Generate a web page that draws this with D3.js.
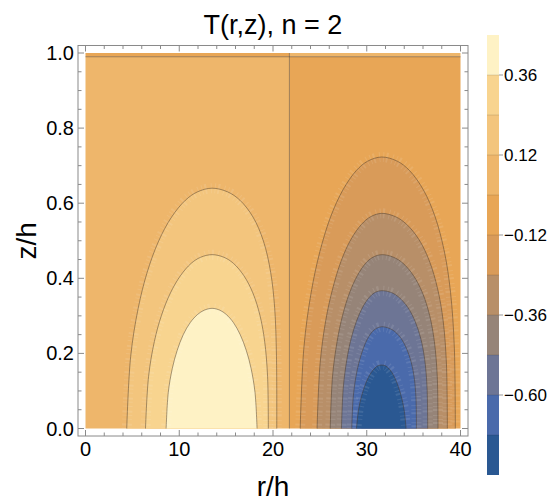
<!DOCTYPE html>
<html>
<head>
<meta charset="utf-8">
<script src="https://cdn.jsdelivr.net/npm/d3@7"></script>
<style>
  body { margin: 0; background: #fff; }
  svg text { font-family: "Liberation Sans", Arial, sans-serif; }
</style>
</head>
<body>
<div id="chart"></div>
<script>
// contour levels (colorbar band edges) and labelled ticks
const bandEdges = [-0.84, -0.72, -0.60, -0.48, -0.36, -0.24, -0.12, 0, 0.12, 0.24, 0.36, 0.48];
const barTicks = [0.36, 0.12, -0.12, -0.36, -0.60];
const xTicks = [0, 10, 20, 30, 40];
const yTicks = [0, 0.2, 0.4, 0.6, 0.8, 1.0];

// zero lines: vertical r where T changes sign, and the z near the lid
const zeroR = 21.75;
const zeroZ = 0.99;

// contour lines, [r/h, z/h]
const contourLevels = [0.12, 0.24, 0.36, -0.12, -0.24, -0.36, -0.48, -0.60, -0.72];
const contourPoints = [
  [[4.4,0],[4.82,.192],[5.62,.32],[6.58,.416],[7.8,.499],[9.18,.563],[10.66,.608],[11.93,.63],[13.5,.64],[15.17,.63],[16.47,.608],[17.87,.563],[18.98,.499],[19.75,.416],[20.18,.32],[20.37,.192],[20.4,0]],
  [[6.4,0],[6.73,.139],[7.35,.232],[8.1,.301],[9.06,.361],[10.13,.407],[11.28,.44],[12.28,.456],[13.5,.463],[14.76,.456],[15.77,.44],[16.89,.407],[17.85,.361],[18.61,.301],[19.11,.232],[19.42,.139],[19.5,0]],
  [[8.6,0],[8.83,.096],[9.26,.16],[9.78,.208],[10.43,.25],[11.17,.282],[11.97,.304],[12.66,.315],[13.5,.32],[14.33,.315],[15.0,.304],[15.78,.282],[16.5,.25],[17.15,.208],[17.66,.16],[18.08,.096],[18.3,0]],
  [[22.9,0],[23.3,.217],[24.07,.362],[24.99,.47],[26.15,.564],[27.47,.636],[28.89,.687],[30.1,.712],[31.6,.723],[33.25,.712],[34.56,.687],[36.03,.636],[37.29,.564],[38.29,.47],[38.94,.362],[39.34,.217],[39.45,0]],
  [[24.7,0],[25.02,.172],[25.62,.287],[26.36,.372],[27.28,.447],[28.32,.504],[29.45,.544],[30.41,.564],[31.6,.573],[33.07,.564],[34.24,.544],[35.55,.504],[36.67,.447],[37.56,.372],[38.15,.287],[38.5,.172],[38.6,0]],
  [[26.1,0],[26.35,.139],[26.84,.232],[27.42,.301],[28.16,.361],[28.99,.407],[29.88,.44],[30.65,.456],[31.6,.463],[32.86,.456],[33.87,.44],[34.99,.407],[35.95,.361],[36.71,.301],[37.21,.232],[37.52,.139],[37.6,0]],
  [[27.3,0],[27.5,.11],[27.88,.184],[28.33,.239],[28.91,.286],[29.56,.323],[30.26,.349],[30.86,.362],[31.6,.367],[32.63,.362],[33.45,.349],[34.37,.323],[35.15,.286],[35.77,.239],[36.18,.184],[36.43,.11],[36.5,0]],
  [[28.4,0],[28.55,.081],[28.83,.136],[29.17,.176],[29.6,.211],[30.08,.239],[30.6,.258],[31.05,.267],[31.6,.271],[32.38,.267],[33.0,.258],[33.69,.239],[34.28,.211],[34.75,.176],[35.06,.136],[35.25,.081],[35.3,0]],
  [[28.9,0],[29.13,.051],[29.43,.085],[29.74,.11],[30.09,.132],[30.47,.149],[30.87,.161],[31.19,.167],[31.6,.169],[31.99,.167],[32.31,.161],[32.69,.149],[33.05,.132],[33.39,.11],[33.69,.085],[33.98,.051],[34.2,0]]
];

// band colours, bottom (-0.84) to top (0.48)
const palette = ["#2a5892", "#4a6aab", "#6d7595", "#968478", "#b88f68", "#d99b59",
                 "#e8a656", "#eeb66b", "#f3c57d", "#f8d48f", "#fef2c5"];

const width = 552, height = 504;

const svg = d3.select("#chart").append("svg")
    .attr("width", width)
    .attr("height", height);

const x = d3.scaleLinear().domain([0, 40]).range([85.5, 460.5]);
const y = d3.scaleLinear().domain([0, 1]).range([428.5, 53]);

// frame has the usual 2% padding round the data
const fx0 = x(-0.8), fx1 = x(40.8), fy0 = y(1.02), fy1 = y(-0.02);

// band colour for a value
function bandColor(v) {
    let i = d3.bisectRight(bandEdges, v) - 1;
    i = Math.max(0, Math.min(palette.length - 1, i));
    return palette[i];
}

const plot = svg.append("g");

// background: T just above / below zero on either side of zeroR
plot.append("rect")
    .attr("x", x(0)).attr("y", y(zeroZ))
    .attr("width", x(zeroR) - x(0)).attr("height", y(0) - y(zeroZ))
    .attr("fill", bandColor(0.06));
plot.append("rect")
    .attr("x", x(zeroR)).attr("y", y(zeroZ))
    .attr("width", x(40) - x(zeroR)).attr("height", y(0) - y(zeroZ))
    .attr("fill", bandColor(-0.06));
// thin strip above the lid zero line has the opposite sign
plot.append("rect")
    .attr("x", x(0)).attr("y", y(1))
    .attr("width", x(zeroR) - x(0)).attr("height", y(zeroZ) - y(1))
    .attr("fill", bandColor(-0.06));
plot.append("rect")
    .attr("x", x(zeroR)).attr("y", y(1))
    .attr("width", x(40) - x(zeroR)).attr("height", y(zeroZ) - y(1))
    .attr("fill", bandColor(0.06));

const line = d3.line()
    .x(d => x(d[0]))
    .y(d => y(d[1]))
    .curve(d3.curveCatmullRom.alpha(0.5));

// filled domes, outer first
contourLevels.forEach((lev, i) => {
    const inner = lev > 0 ? lev + 0.06 : lev - 0.06;
    plot.append("path")
        .attr("d", line(contourPoints[i]) + "Z")
        .attr("fill", bandColor(inner));
});

// faint light speckle seen along the contours in the original rendering
const clip = svg.append("defs").append("clipPath").attr("id", "dataClip");
clip.append("rect")
    .attr("x", x(0)).attr("y", y(1))
    .attr("width", x(40) - x(0)).attr("height", y(0) - y(1));
const speck = plot.append("g").attr("clip-path", "url(#dataClip)");
contourPoints.forEach(pts => {
    speck.append("path")
        .attr("d", line(pts))
        .attr("fill", "none")
        .attr("stroke", "rgba(255,255,255,0.10)")
        .attr("stroke-width", 10)
        .attr("stroke-dasharray", "1 2 2 4 1 3");
});

// contour lines
const lineColor = "rgba(70,55,40,0.6)";
contourPoints.forEach(pts => {
    plot.append("path")
        .attr("d", line(pts))
        .attr("fill", "none")
        .attr("stroke", lineColor)
        .attr("stroke-width", 0.8);
});
plot.append("line")
    .attr("x1", x(zeroR)).attr("x2", x(zeroR))
    .attr("y1", y(0)).attr("y2", y(1))
    .attr("stroke", lineColor).attr("stroke-width", 0.8);
plot.append("line")
    .attr("x1", x(0)).attr("x2", x(40))
    .attr("y1", y(zeroZ)).attr("y2", y(zeroZ))
    .attr("stroke", lineColor).attr("stroke-width", 0.8);

// ----- frame and ticks -----
const frameColor = "#8a8a8a";
const frame = svg.append("g");
frame.append("rect")
    .attr("x", fx0).attr("y", fy0)
    .attr("width", fx1 - fx0).attr("height", fy1 - fy0)
    .attr("fill", "none")
    .attr("stroke", frameColor)
    .attr("stroke-width", 1);

const xMinor = d3.range(0, 40.001, 2).filter(v => v % 10 !== 0);
const yMinor = d3.range(0, 1.0001, 0.05).filter(v => Math.abs(v * 5 - Math.round(v * 5)) > 1e-6);

function xTick(v, len) {
    frame.append("line").attr("x1", x(v)).attr("x2", x(v))
        .attr("y1", fy1).attr("y2", fy1 - len)
        .attr("stroke", frameColor);
    frame.append("line").attr("x1", x(v)).attr("x2", x(v))
        .attr("y1", fy0).attr("y2", fy0 + len)
        .attr("stroke", frameColor);
}
function yTick(v, len) {
    frame.append("line").attr("y1", y(v)).attr("y2", y(v))
        .attr("x1", fx0).attr("x2", fx0 + len)
        .attr("stroke", frameColor);
    frame.append("line").attr("y1", y(v)).attr("y2", y(v))
        .attr("x1", fx1).attr("x2", fx1 - len)
        .attr("stroke", frameColor);
}
xTicks.forEach(v => xTick(v, 6));
xMinor.forEach(v => xTick(v, 3.5));
yTicks.forEach(v => yTick(v, 6));
yMinor.forEach(v => yTick(v, 3.5));

frame.selectAll(".xl").data(xTicks).enter().append("text")
    .attr("x", d => x(d))
    .attr("y", fy1 + 20)
    .attr("text-anchor", "middle")
    .attr("font-size", 20)
    .text(d => d);

frame.selectAll(".yl").data(yTicks).enter().append("text")
    .attr("x", fx0 - 4)
    .attr("y", d => y(d) + 7)
    .attr("text-anchor", "end")
    .attr("font-size", 20)
    .text(d => d.toFixed(1));

// titles
svg.append("text")
    .attr("x", (fx0 + fx1) / 2)
    .attr("y", 34)
    .attr("text-anchor", "middle")
    .attr("font-size", 27)
    .text("T(r,z), n = 2");

svg.append("text")
    .attr("x", (fx0 + fx1) / 2)
    .attr("y", 496)
    .attr("text-anchor", "middle")
    .attr("font-size", 28)
    .text("r/h");

svg.append("text")
    .attr("transform", `translate(36, ${(fy0 + fy1) / 2}) rotate(-90)`)
    .attr("text-anchor", "middle")
    .attr("font-size", 28)
    .text("z/h");

// ----- colour bar -----
const cb = d3.scaleLinear().domain([-0.84, 0.48]).range([475, 35]);
const barX = 487, barW = 12;
const bar = svg.append("g");
palette.forEach((c, i) => {
    bar.append("rect")
        .attr("x", barX).attr("y", cb(bandEdges[i + 1]))
        .attr("width", barW).attr("height", cb(bandEdges[i]) - cb(bandEdges[i + 1]))
        .attr("fill", c);
});
bandEdges.slice(1, -1).forEach(v => {
    bar.append("line")
        .attr("x1", barX).attr("x2", barX + barW)
        .attr("y1", cb(v)).attr("y2", cb(v))
        .attr("stroke", "rgba(0,0,0,0.12)");
});
barTicks.forEach(v => {
    bar.append("line")
        .attr("x1", barX + barW).attr("x2", barX + barW + 4)
        .attr("y1", cb(v)).attr("y2", cb(v))
        .attr("stroke", "#999");
    bar.append("text")
        .attr("x", barX + barW + 5)
        .attr("y", cb(v) + 6)
        .attr("font-size", 17)
        .text(v < 0 ? "\u2212" + Math.abs(v).toFixed(2) : v.toFixed(2));
});
</script>
</body>
</html>
